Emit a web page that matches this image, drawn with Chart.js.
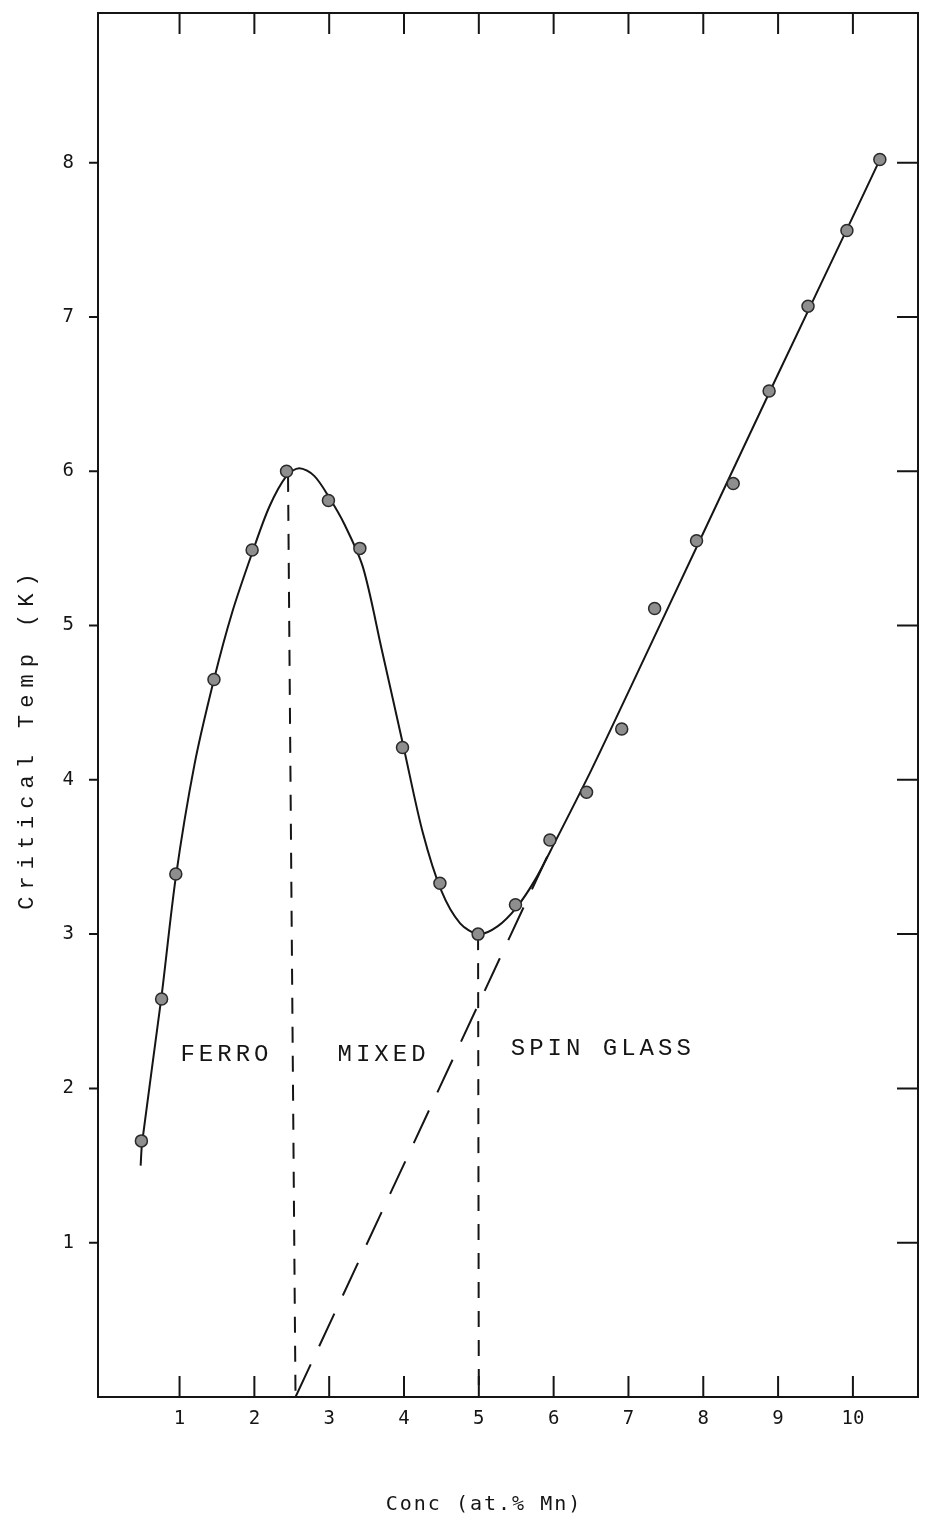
<!DOCTYPE html>
<html>
<head>
<meta charset="utf-8">
<title>Critical Temp vs Conc</title>
<script src="https://cdn.jsdelivr.net/npm/chart.js@4.4.0/dist/chart.umd.min.js"></script>
<style>
  html, body { margin: 0; padding: 0; background: #fff; }
  #wrap { position: relative; width: 926px; height: 1520px; }
</style>
</head>
<body>
<div id="wrap"><canvas id="chart"></canvas></div>
<script>
// Measured points: critical temperature (K) vs Mn concentration (at.%)
const concPoints = [0.49, 0.76, 0.95, 1.46, 1.97, 2.43, 2.99, 3.41, 3.98, 4.48, 4.99, 5.49, 5.95, 6.44, 6.91, 7.35, 7.91, 8.40, 8.88, 9.40, 9.92, 10.36];
const tempPoints = [1.66, 2.58, 3.39, 4.65, 5.49, 6.00, 5.81, 5.50, 4.21, 3.33, 3.00, 3.19, 3.61, 3.92, 4.33, 5.11, 5.55, 5.92, 6.52, 7.07, 7.56, 8.02];

// Hand drawn curve through the points
const curveConc = [0.48, 0.50, 0.76, 0.95, 1.20, 1.46, 1.70, 1.97, 2.20, 2.43, 2.60, 2.80, 3.00, 3.20, 3.45, 3.70, 4.00, 4.25, 4.50, 4.75, 5.00, 5.25, 5.50, 5.75, 6.00, 6.50, 7.00, 8.00, 9.00, 10.00, 10.36];
const curveTemp = [1.50, 1.65, 2.60, 3.37, 4.10, 4.65, 5.08, 5.47, 5.77, 5.97, 6.02, 5.97, 5.83, 5.66, 5.38, 4.85, 4.20, 3.66, 3.28, 3.07, 3.00, 3.05, 3.17, 3.35, 3.58, 4.06, 4.57, 5.60, 6.63, 7.65, 8.02];

// Phase boundaries
const ferroEdgeConc = [2.45, 2.55];
const ferroEdgeTemp = [5.97, 0];
const glassEdgeConc = [4.99, 5.00];
const glassEdgeTemp = [3.00, 0];
// Extrapolation of the high-concentration line to T = 0
const extrapConc = [2.55, 5.95];
const extrapTemp = [0, 3.54];

// Region labels
const regionNames = ['FERRO', 'MIXED', 'SPIN GLASS'];
const regionConc = [1.60, 3.70, 6.63];
const regionTemp = [2.22, 2.22, 2.26];

// Axes
const xTicks = [1, 2, 3, 4, 5, 6, 7, 8, 9, 10];
const yTicks = [1, 2, 3, 4, 5, 6, 7, 8];
const xTitle = 'Conc (at.% Mn)';
const yTitle = 'Critical Temp (K)';

const toXY = (xs, ys) => xs.map((x, i) => ({ x: x, y: ys[i] }));

const INK = '#151515';

const framePlugin = {
  id: 'frame',
  afterDraw(chart) {
    const ctx = chart.ctx;
    const { left, right, top, bottom } = chart.chartArea;
    const xs = chart.scales.x;
    const ys = chart.scales.y;

    ctx.save();
    ctx.strokeStyle = INK;
    ctx.lineWidth = 2;
    ctx.strokeRect(left, top, right - left, bottom - top);

    // tick marks: bottom/top/right point inward, left ones point out
    ctx.beginPath();
    xTicks.forEach(v => {
      const px = xs.getPixelForValue(v);
      ctx.moveTo(px, bottom); ctx.lineTo(px, bottom - 21);
      ctx.moveTo(px, top); ctx.lineTo(px, top + 21);
    });
    yTicks.forEach(v => {
      const py = ys.getPixelForValue(v);
      ctx.moveTo(left, py); ctx.lineTo(left - 9, py);
      ctx.moveTo(right, py); ctx.lineTo(right - 21, py);
    });
    ctx.stroke();

    // region labels
    ctx.fillStyle = INK;
    ctx.font = '24px "Liberation Mono", "Courier New", monospace';
    ctx.letterSpacing = '4px';
    ctx.textAlign = 'center';
    ctx.textBaseline = 'middle';
    regionNames.forEach((name, i) => {
      ctx.fillText(name, xs.getPixelForValue(regionConc[i]) + 2, ys.getPixelForValue(regionTemp[i]));
    });

    // axis titles
    ctx.font = '20px "DejaVu Sans Mono", monospace';
    ctx.letterSpacing = '2px';
    ctx.fillText(xTitle, 484, 1505);

    ctx.translate(27, 738);
    ctx.rotate(-Math.PI / 2);
    ctx.font = '22px "Liberation Mono", "Courier New", monospace';
    ctx.letterSpacing = '7px';
    ctx.fillText(yTitle, 0, 0);
    ctx.restore();
  }
};

new Chart(document.getElementById('chart'), {
  type: 'scatter',
  data: {
    datasets: [
      {
        label: 'Tc',
        data: toXY(concPoints, tempPoints),
        pointRadius: 6,
        pointBackgroundColor: '#8e8e8e',
        pointBorderColor: '#2a2a2a',
        pointBorderWidth: 1.5,
        showLine: false
      },
      {
        label: 'curve',
        data: toXY(curveConc, curveTemp),
        showLine: true,
        borderColor: INK,
        borderWidth: 2,
        pointRadius: 0,
        tension: 0.3
      },
      {
        label: 'ferro edge',
        data: toXY(ferroEdgeConc, ferroEdgeTemp),
        showLine: true,
        borderColor: INK,
        borderWidth: 2,
        borderDash: [16, 13],
        pointRadius: 0
      },
      {
        label: 'glass edge',
        data: toXY(glassEdgeConc, glassEdgeTemp),
        showLine: true,
        borderColor: INK,
        borderWidth: 2,
        borderDash: [16, 13],
        pointRadius: 0
      },
      {
        label: 'extrapolation',
        data: toXY(extrapConc, extrapTemp),
        showLine: true,
        borderColor: INK,
        borderWidth: 2,
        borderDash: [36, 20],
        pointRadius: 0
      }
    ]
  },
  options: {
    responsive: true,
    maintainAspectRatio: false,
    animation: false,
    layout: { padding: { top: 13, right: 8, left: 0, bottom: 0 } },
    plugins: {
      legend: { display: false },
      tooltip: { enabled: false }
    },
    scales: {
      x: {
        type: 'linear',
        min: -0.09,
        max: 10.87,
        afterBuildTicks: s => { s.ticks = xTicks.map(v => ({ value: v })); },
        afterFit: s => { s.height = 123; s.paddingLeft = 0; s.paddingRight = 0; },
        grid: { display: false, drawTicks: false },
        border: { display: false },
        ticks: {
          padding: 11,
          color: INK,
          font: { family: '"DejaVu Sans Mono", monospace', size: 19 }
        }
      },
      y: {
        type: 'linear',
        min: 0,
        max: 8.97,
        afterBuildTicks: s => { s.ticks = yTicks.map(v => ({ value: v })); },
        afterFit: s => { s.width = 98; s.paddingTop = 0; s.paddingBottom = 0; },
        grid: { display: false, drawTicks: false },
        border: { display: false },
        ticks: {
          padding: 24,
          color: INK,
          font: { family: '"DejaVu Sans Mono", monospace', size: 19 }
        }
      }
    }
  },
  plugins: [framePlugin]
});
</script>
</body>
</html>
